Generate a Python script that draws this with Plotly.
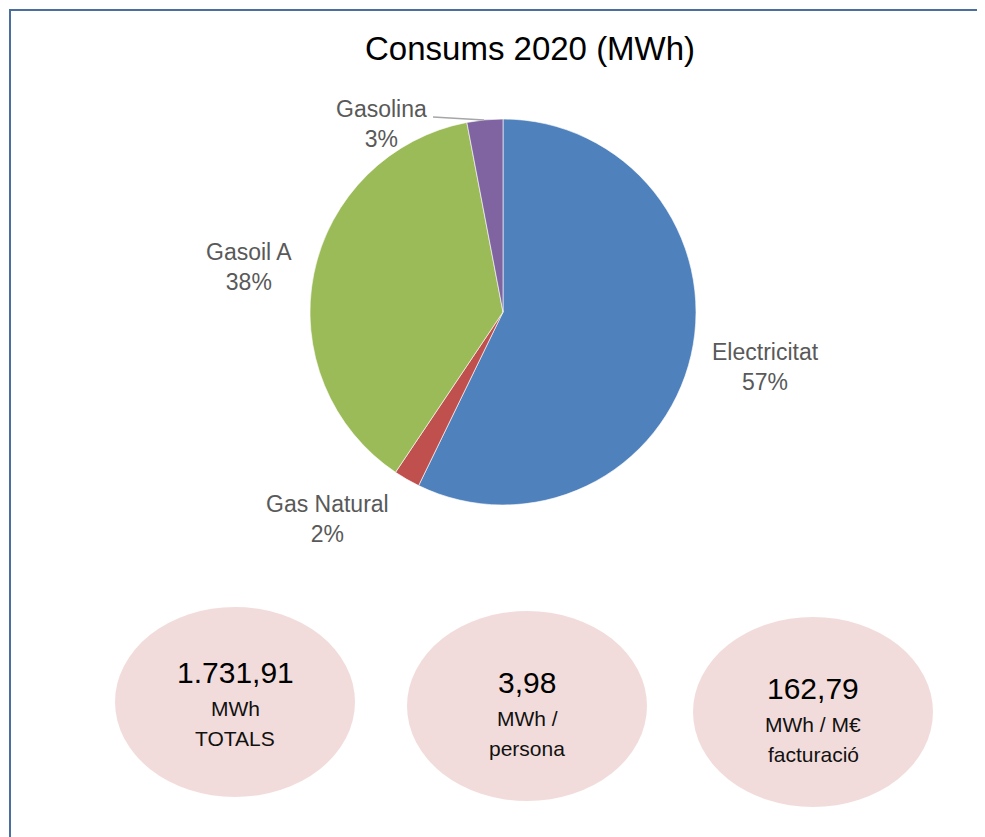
import plotly.graph_objects as go

OFF = 8  # marge del body de la pàgina
W, H = 985 - OFF, 837 - OFF

# dades
fonts = ["Electricitat", "Gas Natural", "Gasoil A", "Gasolina"]
consum = [57.2, 2.2, 37.6, 3.0]
colors = ["#4f81bd", "#c0504d", "#9bbb59", "#8064a2"]

kpi_values = ["1.731,91", "3,98", "162,79"]
kpi_line1 = ["MWh", "MWh /", "MWh / M€"]
kpi_line2 = ["TOTALS", "persona", "facturació"]

FONT = "Liberation Sans, Arial, sans-serif"


def px(x):
    return (x - OFF) / W


def py(y):
    return 1 - (y - OFF) / H


fig = go.Figure(go.Pie(
    labels=fonts,
    values=consum,
    sort=False,
    direction="clockwise",
    rotation=0,
    textinfo="none",
    marker=dict(colors=colors, line=dict(color="white", width=0.6)),
    domain=dict(x=[px(310), px(696)], y=[py(505), py(119)]),
    showlegend=False,
))

total = sum(consum)
# posicions de les etiquetes (com a l'original d'Excel)
label_pos = [(765, 367), (327, 519), (249, 267), (381, 124)]
annotations = []
for name, v, (x, y) in zip(fonts, consum, label_pos):
    annotations.append(dict(
        x=px(x), y=py(y), xref="paper", yref="paper",
        text=f"{name}<br>{round(v / total * 100)}%",
        showarrow=False, xanchor="center", yanchor="middle",
        font=dict(family=FONT, size=23, color="#595959"),
    ))

annotations.append(dict(
    x=px(530), y=py(48), xref="paper", yref="paper",
    text="Consums 2020 (MWh)", showarrow=False,
    xanchor="center", yanchor="middle",
    font=dict(family=FONT, size=33, color="black"),
))

shapes = [
    # marc
    dict(type="rect", xref="paper", yref="paper",
         x0=px(10), y0=-0.05, x1=1.05, y1=py(10),
         line=dict(color="#4a6f9f", width=2), layer="below"),
    # línia guia Gasolina
    dict(type="line", xref="paper", yref="paper",
         x0=px(433), y0=py(117), x1=px(484), y1=py(120),
         line=dict(color="#a6a6a6", width=1.5)),
]

ell_centers = [(235, 702), (527, 706), (813, 712)]
for (cx, cy), val, l1, l2 in zip(ell_centers, kpi_values, kpi_line1, kpi_line2):
    shapes.append(dict(
        type="circle", xref="paper", yref="paper",
        x0=px(cx - 120), x1=px(cx + 120), y0=py(cy + 95), y1=py(cy - 95),
        fillcolor="#f2dcdb", line=dict(width=0), layer="below",
    ))
    big_y = cy - 30 if cy < 704 else cy - 24
    annotations.append(dict(
        x=px(cx), y=py(big_y), xref="paper", yref="paper", text=val,
        showarrow=False, xanchor="center", yanchor="middle",
        font=dict(family=FONT, size=30, color="black"),
    ))
    annotations.append(dict(
        x=px(cx), y=py(big_y + 36), xref="paper", yref="paper", text=l1,
        showarrow=False, xanchor="center", yanchor="middle",
        font=dict(family=FONT, size=21, color="#111111"),
    ))
    annotations.append(dict(
        x=px(cx), y=py(big_y + 66), xref="paper", yref="paper", text=l2,
        showarrow=False, xanchor="center", yanchor="middle",
        font=dict(family=FONT, size=21, color="#111111"),
    ))

fig.update_layout(
    width=W, height=H,
    margin=dict(l=0, r=0, t=0, b=0),
    paper_bgcolor="white",
    plot_bgcolor="white",
    shapes=shapes,
    annotations=annotations,
)

fig.write_html("out.html")
